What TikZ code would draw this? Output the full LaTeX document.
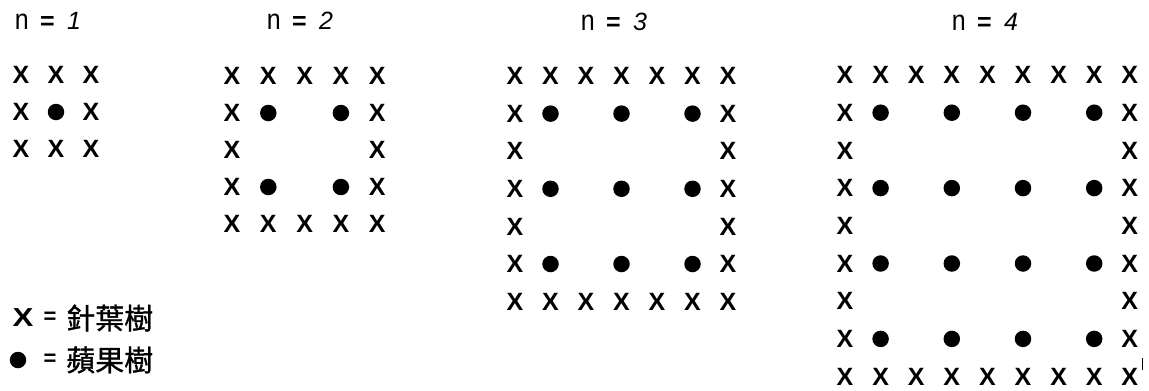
\documentclass[tikz,border=0pt]{standalone}
\usepackage{fontspec}
\setmainfont{Liberation Sans}
\newfontfamily\cjk[FakeBold=1]{Noto Sans CJK TC}
\tikzset{
  xmark/.style={inner sep=0pt, font=\bfseries\fontsize{25}{25}\selectfont},
  dotmark/.style={circle, fill=black, inner sep=0pt, minimum size=16.5pt},
  nlabel/.style={inner sep=0pt, font=\fontsize{25}{25}\selectfont},
  legtext/.style={inner sep=0pt, anchor=west, font=\cjk\fontsize{29}{29}\selectfont},
  legeq/.style={inner sep=0pt, font=\bfseries\fontsize{22}{22}\selectfont},
}
\newcommand\treegrid[5]{%
  \pgfmathtruncatemacro\mm{2*#1}%
  \foreach \i in {0,...,\mm}{%
    \foreach \j in {0,...,\mm}{%
      \pgfmathtruncatemacro\isedge{(\i==0)||(\j==0)||(\i==\mm)||(\j==\mm)}%
      \pgfmathtruncatemacro\isin{(mod(\i,2)==1)&&(mod(\j,2)==1)}%
      \ifnum\isedge=1
        \node[xmark] (g#1-\i-\j) at ({#2+\i*#4},{#3+\j*#5}) {X};
      \else\ifnum\isin=1
        \node[dotmark] (g#1-\i-\j) at ({#2+\i*#4},{#3+\j*#5}) {};
      \fi\fi
    }%
  }%
}
\newcommand\nlab{\scalebox{1}[1.15]{n}\hspace{0.45em}{\bfseries =}\hspace{0.5em}}
\begin{document}
\begin{tikzpicture}[x=1pt,y=-1pt]
\useasboundingbox (0,0) rectangle (1149,391);
\fill[white] (0,0) rectangle (1149,391);
% labels
\node[nlabel] (n1) at (48,21) {\nlab\textit{1}};
\node[nlabel] (n2) at (300,21) {\nlab\textit{2}};
\node[nlabel] (n3) at (614,22) {\nlab\textit{3}};
\node[nlabel] (n4) at (985,22) {\nlab\textit{4}};
% grids
\treegrid{1}{21}{75}{35}{37}
\treegrid{2}{232}{76}{36.3}{37}
\treegrid{3}{515}{76}{35.5}{37.6}
\treegrid{4}{845}{75}{35.6}{37.7}
% legend
\node[xmark, font=\bfseries\fontsize{26}{26}\selectfont] (lx) at (23,318) {\scalebox{1.2}[1]{X}};
\node[legeq] (leq1) at (50,318) {=};
\node[legtext] (lt1) at (66,318) {針葉樹};
\node[dotmark] (ld) at (18,360) {};
\node[legeq] (leq2) at (50,360) {=};
\node[legtext] (lt2) at (66,360) {蘋果樹};
% small stray mark
\coordinate (m1) at (1142,358);
\coordinate (m2) at (1142,370);
\draw[line width=1pt] (m1) -- (m2);
\end{tikzpicture}
\end{document}
